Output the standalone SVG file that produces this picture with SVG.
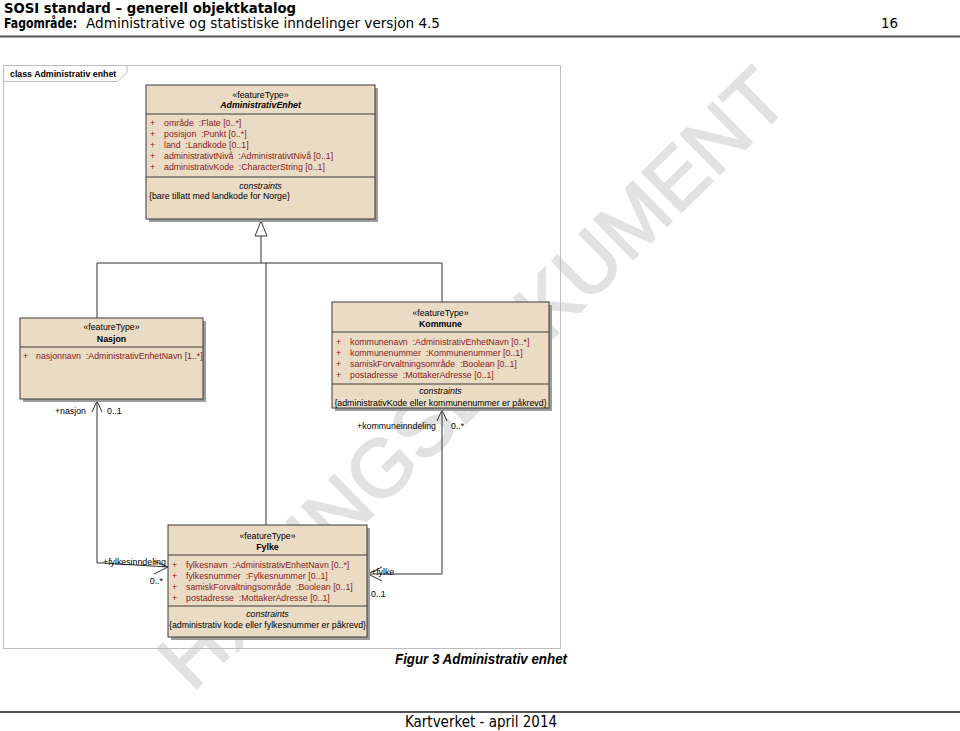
<svg xmlns="http://www.w3.org/2000/svg" width="960" height="731" viewBox="0 0 960 731">
<style>
.hdr{font-family:"DejaVu Sans",Verdana,sans-serif;fill:#000}
.box{fill:#eadbc5;stroke:#3a3a3a;stroke-width:1}
.shd{fill:#9c9c9c}
.sep{stroke:#3a3a3a;stroke-width:1}
.t{font-family:"Liberation Sans",Arial,sans-serif;font-size:8.8px;fill:#000}
.c{text-anchor:middle}
.b{font-weight:bold}
.i{font-style:italic}
.a{font-family:"Liberation Sans",Arial,sans-serif;font-size:8.8px;fill:#8b1c1c;white-space:pre}
.ln{fill:none;stroke:#333;stroke-width:1}
.lbl{font-family:"Liberation Sans",Arial,sans-serif;font-size:8.8px;fill:#000}
</style>
<rect width="960" height="731" fill="#fff"/>

<!-- watermark (behind diagram) -->
<text x="492" y="398" text-anchor="middle" transform="rotate(-44.5 492 398)" font-family="Liberation Sans,Arial,sans-serif" font-size="81" fill="#e2e2e2" stroke="#e2e2e2" stroke-width="2">HØRINGSDOKUMENT</text>

<!-- page header -->
<text class="hdr" x="4" y="13" font-size="13.5" font-weight="bold" textLength="292" lengthAdjust="spacingAndGlyphs">SOSI standard – generell objektkatalog</text>
<text class="hdr" x="4" y="28" font-size="13.5" font-weight="bold" textLength="73" lengthAdjust="spacingAndGlyphs">Fagområde:</text>
<text class="hdr" x="86" y="28" font-size="13.5" textLength="354" lengthAdjust="spacingAndGlyphs">Administrative og statistiske inndelinger versjon 4.5</text>
<text class="hdr" x="881" y="28" font-size="13.5" textLength="17" lengthAdjust="spacingAndGlyphs">16</text>
<line x1="0" y1="36.5" x2="960" y2="36.5" stroke="#555" stroke-width="2"/>

<!-- frame -->
<rect x="3.5" y="65.5" width="557" height="583" fill="none" stroke="#bdbdbd"/>
<path d="M3.5,81.5 H118 L127,72 V65.5" fill="none" stroke="#bdbdbd"/>
<text class="t b" x="10" y="77">class Administrativ enhet</text>

<!-- connectors -->
<g id="connectors">
  <polygon points="261,221 255,236 267,236" fill="#fff" stroke="#333"/>
  <polyline class="ln" points="261,236 261,263"/>
  <polyline class="ln" points="97,318 97,263 442,263 442,302"/>
  <polyline class="ln" points="266,263 266,525"/>
  <!-- Nasjon - Fylke -->
  <polyline class="ln" points="97,400 97,563 103,563 168,567"/>
  <polyline class="ln" points="92,412 97,401 102,412"/>
  <polyline class="ln" points="154,561 168,567 154,574"/>
  <text class="lbl" x="86" y="414" text-anchor="end">+nasjon</text>
  <text class="lbl" x="107" y="414">0..1</text>
  <text class="lbl" x="103" y="565">+fylkesinndeling</text>
  <text class="lbl" x="163" y="584" text-anchor="end">0..*</text>
  <!-- Kommune - Fylke -->
  <polyline class="ln" points="442,409 442,574 368,574"/>
  <polyline class="ln" points="437,421 442,410 447,421"/>
  <polyline class="ln" points="382,567 368,574 382,581"/>
  <text class="lbl" x="436" y="429" text-anchor="end">+kommuneinndeling</text>
  <text class="lbl" x="451" y="429">0..*</text>
  <text class="lbl" x="371" y="575">+fylke</text>
  <text class="lbl" x="371" y="597">0..1</text>
</g>

<!-- AdministrativEnhet -->
<g id="AdministrativEnhet">
  <rect class="shd" x="149" y="88" width="229" height="134"/>
  <rect class="box" x="146" y="85" width="229" height="134"/>
  <text class="t c" x="260.5" y="98">«featureType»</text>
  <text class="t c b i" x="260.5" y="108">AdministrativEnhet</text>
  <line class="sep" x1="146" y1="114" x2="375" y2="114"/>
  <text class="a" x="150" y="126">+</text><text class="a" x="164" y="126">område  :Flate [0..*]</text>
  <text class="a" x="150" y="137">+</text><text class="a" x="164" y="137">posisjon  :Punkt [0..*]</text>
  <text class="a" x="150" y="148">+</text><text class="a" x="164" y="148">land  :Landkode [0..1]</text>
  <text class="a" x="150" y="159">+</text><text class="a" x="164" y="159">administrativtNivå  :AdministrativtNivå [0..1]</text>
  <text class="a" x="150" y="170">+</text><text class="a" x="164" y="170">administrativKode  :CharacterString [0..1]</text>
  <line class="sep" x1="146" y1="177" x2="375" y2="177"/>
  <text class="t c i" x="260.5" y="189">constraints</text>
  <text class="t" x="149" y="199">{bare tillatt med landkode for Norge}</text>
</g>

<!-- Nasjon -->
<g id="Nasjon">
  <rect class="shd" x="23" y="321" width="183" height="81"/>
  <rect class="box" x="20" y="318" width="183" height="81"/>
  <text class="t c" x="111.5" y="330">«featureType»</text>
  <text class="t c b" x="111.5" y="342">Nasjon</text>
  <line class="sep" x1="20" y1="347" x2="203" y2="347"/>
  <text class="a" x="23" y="359">+</text><text class="a" x="36" y="359">nasjonnavn  :AdministrativEnhetNavn [1..*]</text>
</g>

<!-- Kommune -->
<g id="Kommune">
  <rect class="shd" x="335" y="305" width="217" height="106"/>
  <rect class="box" x="332" y="302" width="217" height="106"/>
  <text class="t c" x="440.5" y="316">«featureType»</text>
  <text class="t c b" x="440.5" y="327">Kommune</text>
  <line class="sep" x1="332" y1="332" x2="549" y2="332"/>
  <text class="a" x="336" y="345">+</text><text class="a" x="350" y="345">kommunenavn  :AdministrativEnhetNavn [0..*]</text>
  <text class="a" x="336" y="356">+</text><text class="a" x="350" y="356">kommunenummer  :Kommunenummer [0..1]</text>
  <text class="a" x="336" y="367">+</text><text class="a" x="350" y="367">samiskForvaltningsområde  :Boolean [0..1]</text>
  <text class="a" x="336" y="378">+</text><text class="a" x="350" y="378">postadresse  :MottakerAdresse [0..1]</text>
  <line class="sep" x1="332" y1="384" x2="549" y2="384"/>
  <text class="t c i" x="440.5" y="394">constraints</text>
  <text class="t c" x="440.5" y="406">{administrativKode eller kommunenummer er påkrevd}</text>
</g>

<!-- Fylke -->
<g id="Fylke">
  <rect class="shd" x="171" y="528" width="199" height="112"/>
  <rect class="box" x="168" y="525" width="199" height="112"/>
  <text class="t c" x="267.5" y="539">«featureType»</text>
  <text class="t c b" x="267.5" y="550">Fylke</text>
  <line class="sep" x1="168" y1="555" x2="367" y2="555"/>
  <text class="a" x="172" y="568">+</text><text class="a" x="186" y="568">fylkesnavn  :AdministrativEnhetNavn [0..*]</text>
  <text class="a" x="172" y="579">+</text><text class="a" x="186" y="579">fylkesnummer  :Fylkesnummer [0..1]</text>
  <text class="a" x="172" y="590">+</text><text class="a" x="186" y="590">samiskForvaltningsområde  :Boolean [0..1]</text>
  <text class="a" x="172" y="601">+</text><text class="a" x="186" y="601">postadresse  :MottakerAdresse [0..1]</text>
  <line class="sep" x1="168" y1="606" x2="367" y2="606"/>
  <text class="t c i" x="267.5" y="617">constraints</text>
  <text class="t c" x="267.5" y="628">{administrativ kode eller fylkesnummer er påkrevd}</text>
</g>

<!-- caption and footer -->
<text x="395" y="664" font-family="Liberation Sans,Arial,sans-serif" font-size="14" font-weight="bold" font-style="italic" textLength="172" lengthAdjust="spacingAndGlyphs">Figur  3 Administrativ enhet</text>
<line x1="0" y1="712" x2="960" y2="712" stroke="#555" stroke-width="2"/>
<text class="hdr" x="405" y="727" font-size="16" textLength="152" lengthAdjust="spacingAndGlyphs">Kartverket - april 2014</text>
</svg>
